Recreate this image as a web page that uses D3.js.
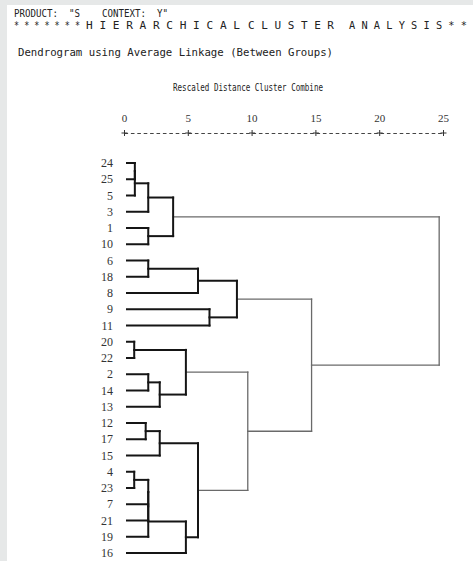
<!DOCTYPE html>
<html>
<head>
<meta charset="utf-8">
<script src="https://cdn.jsdelivr.net/npm/d3@7"></script>
<style>
  html, body { margin: 0; padding: 0; background: #e6e8e8; }
  svg { display: block; }
  .hdr { font-family: "DejaVu Sans Mono", monospace; font-size: 10px; fill: #222; white-space: pre; }
  .leaf { font-family: "Liberation Serif", serif; font-size: 12px; fill: #333; }
  .axis text { font-family: "Liberation Serif", serif; font-size: 11px; fill: #333; }
</style>
</head>
<body>
<div id="chart"></div>
<script>
// leaf order top to bottom
var leafLabels = ["24", "25", "5", "3", "1", "10", "6", "18", "8", "9", "11",
    "20", "22", "2", "14", "13", "12", "17", "15", "4", "23", "7", "21", "19", "16"];

// [id, left, right, rescaled distance]
var merges = [
    ["A1", "24", "25", 0.85],
    ["A2", "A1", "5", 0.85],
    ["A3", "A2", "3", 1.9],
    ["A4", "1", "10", 1.9],
    ["A", "A3", "A4", 3.85],
    ["B1", "6", "18", 1.9],
    ["B2", "B1", "8", 5.8],
    ["B3", "9", "11", 6.7],
    ["B", "B2", "B3", 8.85],
    ["C1", "20", "22", 0.8],
    ["C2", "2", "14", 1.9],
    ["C3", "C2", "13", 2.8],
    ["C", "C1", "C3", 4.85],
    ["D1", "12", "17", 1.7],
    ["D2", "D1", "15", 2.8],
    ["D3", "4", "23", 0.8],
    ["D4", "D3", "7", 1.9],
    ["D5", "D4", "21", 1.9],
    ["D6", "D5", "19", 1.9],
    ["D7", "D6", "16", 4.85],
    ["D", "D2", "D7", 5.8],
    ["CD", "C", "D", 9.7],
    ["BCD", "B", "CD", 14.7],
    ["root", "A", "BCD", 24.7]
];

var tickValues = [0, 5, 10, 15, 20, 25];

var width = 473;
var height = 561;

var svg = d3.select('#chart')
    .append('svg')
    .attr('width', width)
    .attr('height', height);

svg.append('rect')
    .attr('x', 7).attr('y', 5)
    .attr('width', width - 7).attr('height', height - 5)
    .attr('fill', '#fff');

// header lines (SPSS text output)
var hdr = [
    { t: 'PRODUCT:  "S    CONTEXT:  Y"', x: 14, y: 17, w: 154 },
    { t: '* * * * * * *', x: 14, y: 29, w: 66 },
    { t: 'H I E R A R C H I C A L', x: 86, y: 29, w: 154 },
    { t: 'C L U S T E R', x: 248, y: 29, w: 86 },
    { t: 'A N A L Y S I S * *', x: 349, y: 29, w: 118 },
    { t: 'Dendrogram using Average Linkage (Between Groups)', x: 18, y: 56, w: 315 },
    { t: 'Rescaled Distance Cluster Combine', x: 173, y: 91, w: 150 }
];
svg.selectAll('text.hdr')
    .data(hdr)
    .enter().append('text')
    .attr('class', 'hdr')
    .attr('xml:space', 'preserve')
    .attr('x', function (d) { return d.x; })
    .attr('y', function (d) { return d.y; })
    .attr('textLength', function (d) { return d.w; })
    .attr('lengthAdjust', 'spacingAndGlyphs')
    .text(function (d) { return d.t; });

var x = d3.scaleLinear().domain([0, 25]).range([124, 443]);
var y = d3.scalePoint().domain(leafLabels).range([163, 553]);

// axis: +---------+---------+ ...
var axis = svg.append('g')
    .attr('class', 'axis')
    .attr('transform', 'translate(0,133)')
    .call(d3.axisTop(x).tickValues(tickValues).tickSize(0).tickSizeOuter(0).tickPadding(11));
axis.select('.domain')
    .attr('stroke', '#444')
    .attr('stroke-width', 1)
    .attr('stroke-dasharray', '3.6,2.8');
axis.selectAll('.tick').each(function () {
    var t = d3.select(this);
    t.append('line').attr('x1', -3).attr('x2', 3).attr('stroke', '#333');
    t.append('line').attr('y1', -3).attr('y2', 3).attr('stroke', '#333');
});

// build tree from merge list
var nodes = {};
leafLabels.forEach(function (l) { nodes[l] = { name: l, dist: 0 }; });
merges.forEach(function (m) {
    nodes[m[0]] = { name: m[0], dist: m[3], children: [nodes[m[1]], nodes[m[2]]] };
});
var root = d3.hierarchy(nodes.root);

root.eachAfter(function (d) {
    if (!d.children) d.py = y(d.data.name);
    else d.py = d3.mean(d.children, function (c) { return c.py; });
});

var xStart = function (d) { return d.children ? x(d.data.dist) : x(0) + 3; };
var isThin = function (d) { return d.data.dist > 9; };

var g = svg.append('g').attr('fill', 'none').attr('stroke-linecap', 'square');

root.descendants().filter(function (d) { return d.children; }).forEach(function (d) {
    var px = x(d.data.dist);
    var stroke = isThin(d) ? '#6a6a6a' : '#151515';
    var sw = isThin(d) ? 1.3 : 2;
    var ys = d.children.map(function (c) { return c.py; });
    g.append('line')
        .attr('x1', px).attr('x2', px)
        .attr('y1', d3.min(ys)).attr('y2', d3.max(ys))
        .attr('stroke', stroke).attr('stroke-width', sw);
    d.children.forEach(function (c) {
        g.append('line')
            .attr('x1', xStart(c)).attr('x2', px)
            .attr('y1', c.py).attr('y2', c.py)
            .attr('stroke', stroke).attr('stroke-width', sw);
    });
});

svg.selectAll('text.leaf')
    .data(leafLabels)
    .enter().append('text')
    .attr('class', 'leaf')
    .attr('x', 113)
    .attr('y', function (d) { return y(d); })
    .attr('dy', '0.35em')
    .attr('text-anchor', 'end')
    .text(function (d) { return d; });
</script>
</body>
</html>
